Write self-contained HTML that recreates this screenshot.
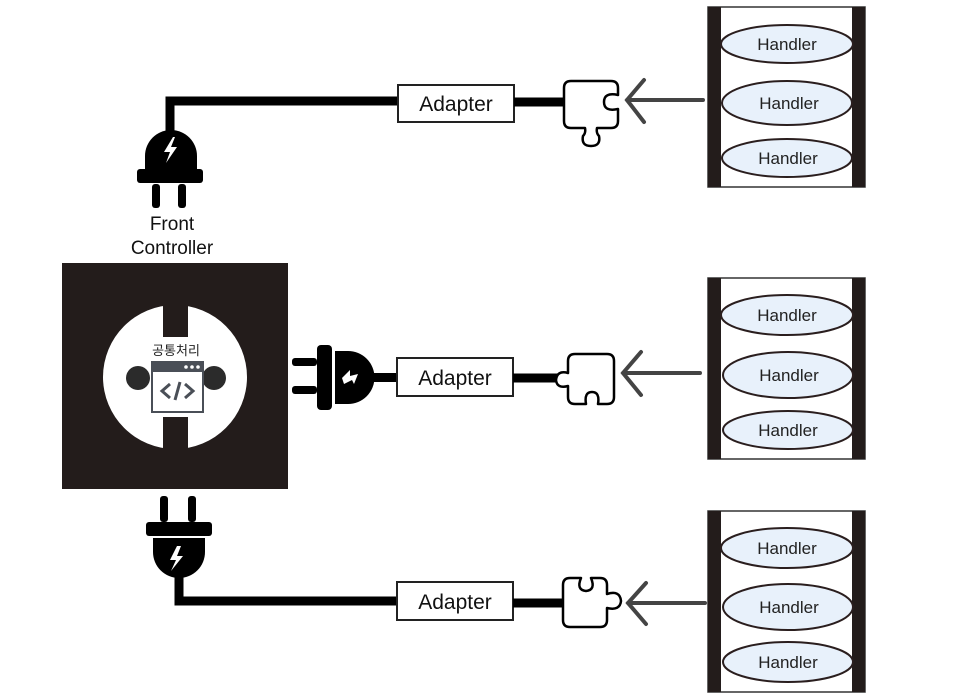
<!DOCTYPE html>
<html><head><meta charset="utf-8"><style>
html,body{margin:0;padding:0;background:#fff;}
svg{display:block;}
text{font-family:"Liberation Sans","Noto Sans CJK KR",sans-serif;}
</style></head><body>
<svg width="967" height="698" viewBox="0 0 967 698" xmlns="http://www.w3.org/2000/svg">
<rect x="62" y="263" width="226" height="226" fill="#231c1b"/>
<circle cx="175" cy="377" r="72" fill="#fff"/>
<rect x="163" y="300" width="25" height="37" fill="#231c1b"/>
<rect x="163" y="417" width="25" height="37" fill="#231c1b"/>
<circle cx="138" cy="378" r="12" fill="#2b2b2b"/>
<circle cx="214" cy="378" r="12" fill="#2b2b2b"/>
<rect x="152" y="362" width="51" height="50" fill="#fff" stroke="#4a4f57" stroke-width="2"/>
<rect x="152" y="362" width="51" height="10" fill="#4a4f57"/>
<circle cx="186" cy="367" r="1.8" fill="#fff"/><circle cx="192" cy="367" r="1.8" fill="#fff"/><circle cx="198" cy="367" r="1.8" fill="#fff"/>
<path d="M170 384 L162 391 L170 398 M185 384 L193 391 L185 398 M180 382 L175 400" stroke="#4a4f57" stroke-width="3" fill="none"/>
<text x="176" y="355" font-size="13" text-anchor="middle" fill="#222">공통처리</text>
<text x="172" y="230" font-size="19" text-anchor="middle" fill="#111">Front</text>
<text x="172" y="254" font-size="19" text-anchor="middle" fill="#111">Controller</text>

<path d="M170 135 V101 H400" stroke="#000" stroke-width="9" fill="none"/>
<path d="M145 170 V156 A26 26 0 0 1 197 156 V170 Z" fill="#000"/>
<rect x="137" y="169" width="66" height="14" rx="3" fill="#000"/>
<rect x="152" y="184" width="8" height="24" rx="3" fill="#000"/>
<rect x="178" y="184" width="8" height="24" rx="3" fill="#000"/>
<path d="M173 137 L164 152 L170 152 L166 163 L177 147 L171 147 L175 137 Z" fill="#fff"/>

<rect x="292" y="358" width="25" height="8" rx="3" fill="#000"/>
<rect x="292" y="386" width="25" height="8" rx="3" fill="#000"/>
<rect x="317" y="345" width="15" height="65" rx="4" fill="#000"/>
<path d="M335 351 H348 A26 26 0 0 1 348 404 H335 Z" fill="#000"/>
<path d="M370 377.5 H400" stroke="#000" stroke-width="9"/>
<path d="M342 378 L350 370 L350 376 L358 374 L354 384 L352 380 L344 384 Z" fill="#fff"/>

<rect x="160" y="496" width="8" height="26" rx="3" fill="#000"/>
<rect x="188" y="496" width="8" height="26" rx="3" fill="#000"/>
<rect x="146" y="522" width="66" height="14" rx="3" fill="#000"/>
<path d="M153 538 H205 V552 A26 26 0 0 1 153 552 Z" fill="#000"/>
<path d="M179 570 V601 H400" stroke="#000" stroke-width="9" fill="none"/>
<path d="M177 546 L170 560 L176 560 L171 571 L183 556 L177 556 L181 546 Z" fill="#fff"/>

<g fill="#fff" stroke="#222" stroke-width="2">
<rect x="398" y="85" width="116" height="37"/>
<rect x="397" y="358" width="116" height="38"/>
<rect x="397" y="582" width="116" height="38"/>
</g>
<g font-size="21" fill="#111" text-anchor="middle">
<text x="456" y="111">Adapter</text>
<text x="455" y="385">Adapter</text>
<text x="455" y="609">Adapter</text>
</g>
<g stroke="#000" stroke-width="9">
<path d="M514 102 H565"/><path d="M513 378 H558"/><path d="M513 603 H565"/>
</g>

<g fill="#fff" stroke="#000" stroke-width="2.5" stroke-linejoin="round">
<path d="M571 81 H611 Q618 81 618 88 V95 Q604 92 604 102 Q604 112 618 109 V121 Q618 128 611 128 H597 Q596 133 599 136 Q601 146 591 146 Q581 146 583 136 Q586 133 585 128 H571 Q564 128 564 121 V88 Q564 81 571 81 Z"/>
<path d="M575 354 H607 Q614 354 614 361 V397 Q614 404 607 404 H598 Q600 392 592 392 Q584 392 586 404 H575 Q568 404 568 397 V386 Q557 389 556 380 Q557 370 568 373 V361 Q568 354 575 354 Z"/>
<path d="M570 578 H581 Q576 590 586 591 Q596 590 591 578 H600 Q607 578 607 585 V594 Q620 590 621 601 Q620 611 607 608 V620 Q607 627 600 627 H570 Q563 627 563 620 V585 Q563 578 570 578 Z"/>
</g>

<g stroke="#444" stroke-width="4" fill="none" stroke-linecap="round">
<path d="M703 100 H627 M644 80 L627 100 L644 122"/>
<path d="M700 373 H623 M641 352 L623 373 L641 395"/>
<path d="M705 603 H628 M646 583 L628 603 L646 624"/>
</g>

<g>
<rect x="708" y="7" width="157" height="180" fill="#fff" stroke="#333" stroke-width="1.5"/>
<rect x="708" y="7" width="13" height="180" fill="#231c1b"/><rect x="852" y="7" width="13" height="180" fill="#231c1b"/>
<rect x="708" y="278" width="157" height="181" fill="#fff" stroke="#333" stroke-width="1.5"/>
<rect x="708" y="278" width="13" height="181" fill="#231c1b"/><rect x="852" y="278" width="13" height="181" fill="#231c1b"/>
<rect x="708" y="511" width="157" height="181" fill="#fff" stroke="#333" stroke-width="1.5"/>
<rect x="708" y="511" width="13" height="181" fill="#231c1b"/><rect x="852" y="511" width="13" height="181" fill="#231c1b"/>
</g>
<g fill="#e8f1fb" stroke="#2a1e1e" stroke-width="2">
<ellipse cx="787" cy="44" rx="66" ry="19"/>
<ellipse cx="787" cy="103" rx="65" ry="22"/>
<ellipse cx="787" cy="158" rx="65" ry="19"/>
<ellipse cx="787" cy="315" rx="66" ry="20"/>
<ellipse cx="788" cy="375" rx="65" ry="23"/>
<ellipse cx="788" cy="430" rx="65" ry="19"/>
<ellipse cx="787" cy="548" rx="66" ry="20"/>
<ellipse cx="788" cy="607" rx="65" ry="23"/>
<ellipse cx="788" cy="662" rx="65" ry="20"/>
</g>
<g font-size="17" fill="#222" text-anchor="middle">
<text x="787" y="50">Handler</text><text x="789" y="109">Handler</text><text x="788" y="164">Handler</text>
<text x="787" y="321">Handler</text><text x="789" y="381">Handler</text><text x="788" y="436">Handler</text>
<text x="787" y="554">Handler</text><text x="789" y="613">Handler</text><text x="788" y="668">Handler</text>
</g>
</svg>
</body></html>
